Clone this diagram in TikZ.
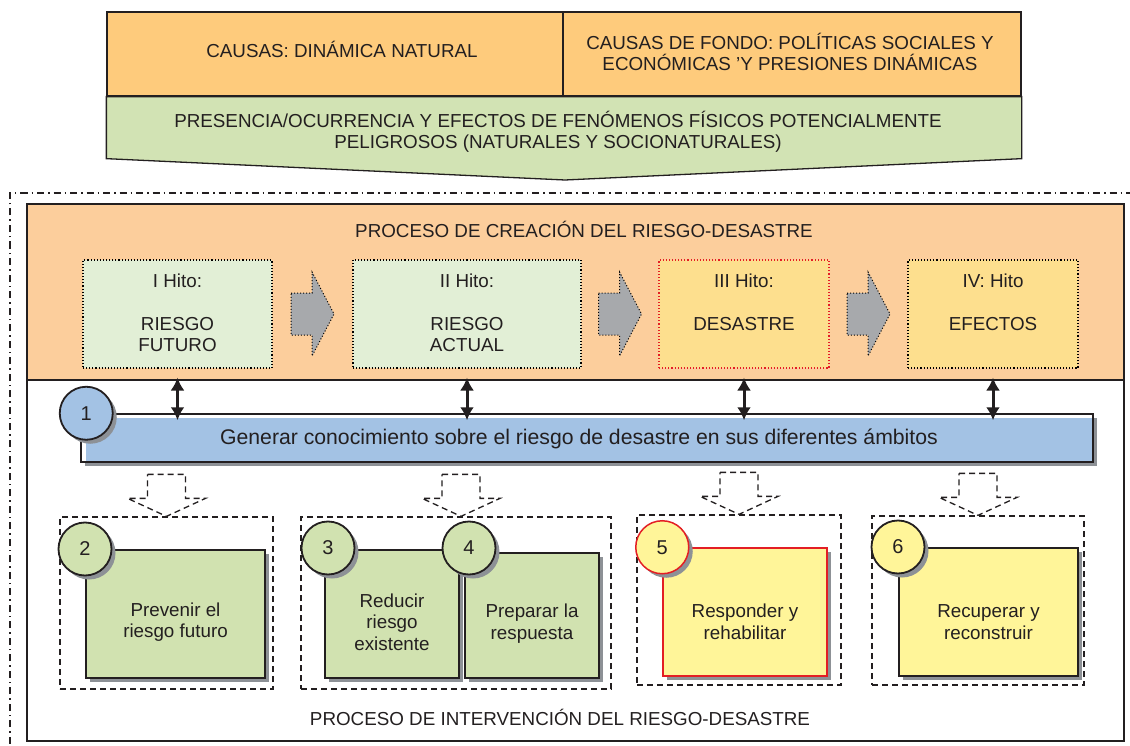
\documentclass[tikz,border=0pt]{standalone}
\usepackage{fontspec}
\setmainfont{Liberation Sans}
\usepackage{tikz}
\usetikzlibrary{arrows.meta,shapes}
\usetikzlibrary{positioning}
\usetikzlibrary{calc,shadows}

\definecolor{linegray}{HTML}{231F20}
\definecolor{causeorange}{HTML}{FECB7C}
\definecolor{procpeach}{HTML}{FCCE9C}
\definecolor{fengreen}{HTML}{D2E3B4}
\definecolor{hitogreen}{HTML}{E2EFD6}
\definecolor{hitoyellow}{HTML}{FDDF8E}
\definecolor{arrowgray}{HTML}{A7A9AC}
\definecolor{barblue}{HTML}{A3C2E4}
\definecolor{taskgreen}{HTML}{D1E2B0}
\definecolor{taskyellow}{HTML}{FFF599}
\definecolor{shadowgray}{HTML}{8D9196}
\definecolor{alertred}{HTML}{E31E24}

\tikzset{
	boxshadow/.style={drop shadow={shadow xshift=4pt, shadow yshift=-4pt, fill=shadowgray, opacity=1}},
	toptext/.style={align=center, text=linegray, inner sep=0pt,
		font=\fontsize{18.8}{21.5}\selectfont},
	causebox/.style={draw=linegray, line width=1.3pt, fill=causeorange,
		minimum height=84pt, inner sep=0pt},
	fenshape/.style={draw=linegray, line width=1.3pt, fill=fengreen},
	procframe/.style={draw=linegray, line width=1.5pt, inner sep=0pt, minimum width=1097pt},
	hitobox/.style={draw=black, line width=1.1pt, dotted, minimum height=108pt, inner sep=0pt},
	hitotext/.style={toptext, anchor=north},
	grayarrow/.style={fill=arrowgray, draw=black, dotted, line width=1pt},
	dblarrow/.style={{Latex[length=13pt,width=14pt]}-{Latex[length=13pt,width=14pt]},
		line width=3pt, draw=linegray},
	knowbar/.style={draw=linegray, line width=1.5pt, fill=white, boxshadow,
		minimum width=1012pt, minimum height=48pt, inner sep=0pt,
		path picture={\fill[barblue] ([shift={(5pt,-4pt)}]path picture bounding box.north west)
			rectangle (path picture bounding box.south east);}},
	numcirc/.style={circle, draw=linegray, line width=1.8pt, minimum size=53pt, inner sep=0pt,
		boxshadow, text=linegray, font=\fontsize{20}{20}\selectfont},
	groupframe/.style={draw=linegray, dash pattern=on 6pt off 4pt, line width=1.3pt,
		minimum height=172pt, inner sep=0pt},
	hollowarrow/.style={draw=linegray, dash pattern=on 6pt off 4pt, line width=1.3pt},
	taskbox/.style={draw=linegray, line width=2pt, fill=taskgreen, boxshadow,
		minimum height=128pt, inner sep=0pt},
	outerframe/.style={draw=linegray, line width=1.3pt,
		dash pattern=on 7pt off 4pt on 1.5pt off 4pt},
}

\begin{document}
\begin{tikzpicture}[x=1pt, y=-1pt]
	\useasboundingbox (0,0) rectangle (1130,746);
	% causas
	\node[causebox, minimum width=456pt] (cause1) at (335,54) {};
	\node[causebox, minimum width=458pt] (cause2) at (792,54) {};
	\node[toptext] (cause1txt) at (342,49) {CAUSAS: DINÁMICA NATURAL};
	\node[toptext] (cause2txt) at (790,52) {CAUSAS DE FONDO: POLÍTICAS SOCIALES Y\\ECONÓMICAS ’Y PRESIONES DINÁMICAS};
	\draw[fenshape] (cause1.south west) -- (cause2.south east) -- ++(0,62) -- (565,180)
		-- ($(cause1.south west)+(0,62)$) -- cycle;
	\node[toptext] (fen) at (558,132) {PRESENCIA/OCURRENCIA Y EFECTOS DE FENÓMENOS FÍSICOS POTENCIALMENTE\\PELIGROSOS (NATURALES Y SOCIONATURALES)};
	%
	\draw[outerframe] (10,760) -- (10,193) -- (1140,193);
	\node[procframe, fill=procpeach, minimum height=176pt] (crea) at (575.5,292) {};
	\node[procframe, fill=white, minimum height=361pt] (interv) at (575.5,560.5) {};
	\node[toptext] (creatitle) at (584,229) {PROCESO DE CREACIÓN DEL RIESGO-DESASTRE};
	\node[toptext] (intertitle) at (560,717) {PROCESO DE INTERVENCIÓN DEL RIESGO-DESASTRE};
	% hitos
	\node[hitobox, fill=hitogreen, minimum width=189pt] (h1) at (177.5,314) {};
	\node[hitobox, fill=hitogreen, minimum width=228pt] (h2) at (467,314) {};
	\node[hitobox, fill=hitoyellow, draw=alertred, minimum width=170pt] (h3) at (744,314) {};
	\node[hitobox, fill=hitoyellow, minimum width=170pt] (h4) at (993,314) {};
	\node[hitotext] (t1) at ([yshift=-14pt]h1.north) {I Hito:\\[21.5pt]RIESGO\\FUTURO};
	\node[hitotext] (t2) at ([yshift=-14pt]h2.north) {II Hito:\\[21.5pt]RIESGO\\ACTUAL};
	\node[hitotext] (t3) at ([yshift=-14pt]h3.north) {III Hito:\\[21.5pt]DESASTRE};
	\node[hitotext] (t4) at ([yshift=-14pt]h4.north) {IV: Hito\\[21.5pt]EFECTOS};
	\foreach \a/\b in {h1/h2,h2/h3,h3/h4}
		\draw[grayarrow] ($(\a.east)!.5!(\b.west)$) ++(-21.5,-21) -- ++(21,0) -- ++(0,-21)
			-- ++(22,42) -- ++(-22,42) -- ++(0,-21) -- ++(-21,0) -- cycle;
	% conocimiento
	\node[knowbar] (bar) at (587,438) {};
	\node[toptext, font=\fontsize{21.2}{21.2}\selectfont] (bartxt) at (579,439)
		{Generar conocimiento sobre el riesgo de desastre en sus diferentes ámbitos};
	\foreach \h in {h1,h2,h3,h4}
		\draw[dblarrow] ($(\h.south)+(0,9)$) -- ($(\h.south |- bar.north)+(0,7)$);
	\node[numcirc, fill=barblue] (c1) at ([xshift=6pt]bar.north west) {1};
	% intervencion
	\node[groupframe, minimum width=213pt] (g1) at (166.5,603) {};
	\node[groupframe, minimum width=310pt] (g2) at (456,603) {};
	\node[groupframe, minimum width=204pt, minimum height=170pt] (g3) at (739,600) {};
	\node[groupframe, minimum width=212pt, minimum height=169pt] (g4) at (978,600.5) {};
	\foreach \g/\dx in {g1/0,g2/5,g3/0,g4/0}
		\draw[hollowarrow] ($(\g.north)+(\dx,0)$) ++(-19,-42) -- ++(38,0) -- ++(0,24) -- ++(20,0)
			-- ++(-39,18) -- ++(-39,-18) -- ++(20,0) -- cycle;
	\node[taskbox, minimum width=179pt] (b2) at (175.5,614) {};
	\node[taskbox, minimum width=134pt] (b3) at (392,614) {};
	\node[taskbox, minimum width=134pt, minimum height=125pt] (b4) at (532,615.5) {};
	\node[taskbox, fill=taskyellow, draw=alertred, line width=1.5pt, minimum width=164pt] (b5) at (745,612) {};
	\node[taskbox, fill=taskyellow, minimum width=179pt] (b6) at (988.5,612) {};
	\node[toptext] (p2) at ([yshift=-8pt]b2.center) {Prevenir el\\riesgo futuro};
	\node[toptext] (p3) at ([yshift=-8pt]b3.center) {Reducir\\riesgo\\existente};
	\node[toptext] (p4) at ([yshift=-8pt]b4.center) {Preparar la\\respuesta};
	\node[toptext] (p5) at ([yshift=-10pt]b5.center) {Responder y\\rehabilitar};
	\node[toptext] (p6) at ([yshift=-10pt]b6.center) {Recuperar y\\reconstruir};
	\node[numcirc, fill=taskgreen] (c2) at (b2.north west) {2};
	\node[numcirc, fill=taskgreen] (c3) at ([shift={(4pt,1pt)}]b3.north west) {3};
	\node[numcirc, fill=taskgreen] (c4) at ([shift={(5pt,4pt)}]b4.north west) {4};
	\node[numcirc, fill=taskyellow, draw=alertred, line width=1.5pt] (c5) at (b5.north west) {5};
	\node[numcirc, fill=taskyellow] (c6) at (b6.north west) {6};
\end{tikzpicture}
\end{document}
